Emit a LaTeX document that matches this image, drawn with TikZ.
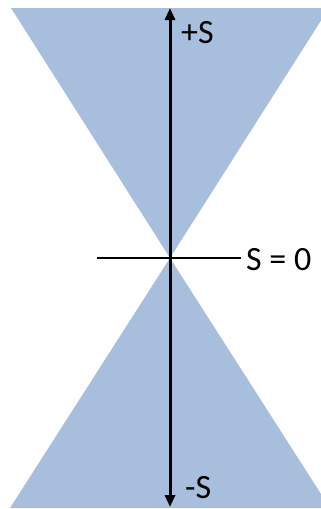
\documentclass[tikz,border=0pt]{standalone}
\usepackage{fontspec}
\setmainfont{Carlito}
\usetikzlibrary{arrows.meta}
\definecolor{cone}{RGB}{167,191,221}
\tikzset{
  conefill/.style={fill=cone, draw=none},
  axis/.style={line width=3pt, {Triangle[length=12pt,width=10pt]}-{Triangle[length=12pt,width=10pt]}},
  zeroline/.style={line width=2pt},
  lbl/.style={font=\fontsize{34}{40}\selectfont, inner sep=0pt}
}
\begin{document}
\begin{tikzpicture}[x=1pt,y=-1pt]
\useasboundingbox (0,0) rectangle (321,509);
\clip (0,0) rectangle (321,509);
\coordinate (apex) at (170,258);
\fill[conefill] (11,8) -- (329,8) -- (apex) -- cycle;
\fill[conefill] (10,508) -- (330,508) -- (apex) -- cycle;
\coordinate (top) at (170,8);
\coordinate (bot) at (170,507);
\coordinate (zl) at (97,258);
\coordinate (zr) at (241,258);
\draw[zeroline] (zl) -- (zr);
\draw[axis] (bot) -- (top);
\node[lbl, anchor=west] (plus) at (181,33) {+S};
\node[lbl, anchor=west] (minus) at (185,488) {-S};
\node[lbl, anchor=west] (zero) at (246,260) {S = 0};
\end{tikzpicture}
\end{document}
